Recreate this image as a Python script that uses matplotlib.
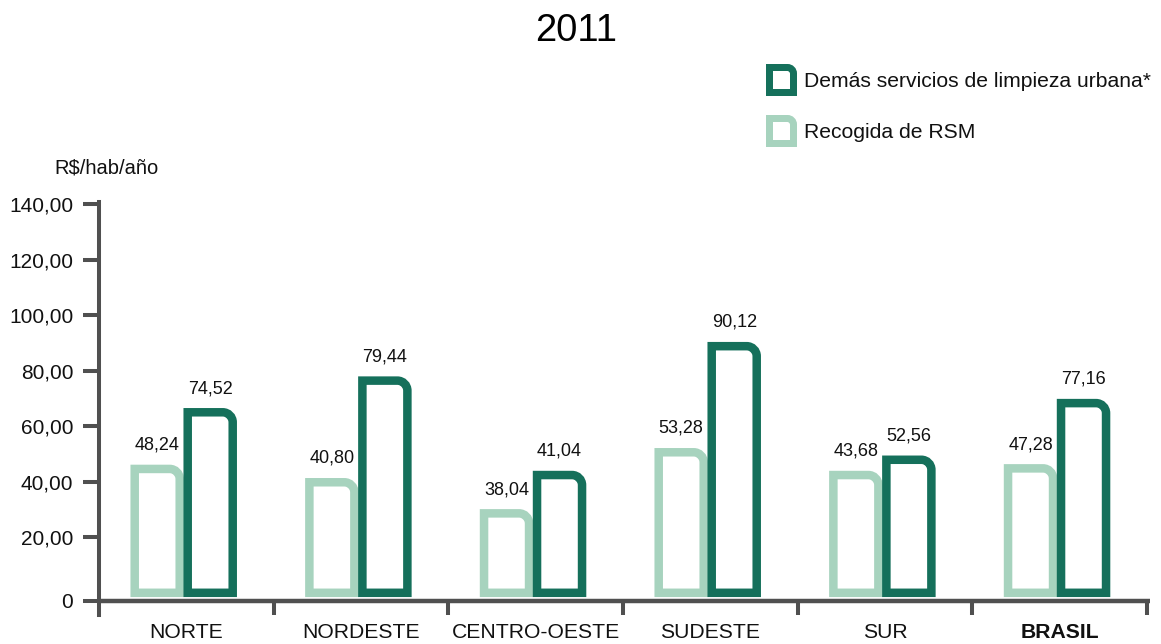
import numpy as np
import matplotlib
matplotlib.use("Agg")
import matplotlib.pyplot as plt
from matplotlib.path import Path
from matplotlib.patches import PathPatch

plt.rcParams['font.family'] = ['Liberation Sans', 'DejaVu Sans']

################################################################
# datos

regiones = ['NORTE', 'NORDESTE', 'CENTRO-OESTE', 'SUDESTE', 'SUR', 'BRASIL']
# valores impresos en el grafico
recogida_txt = ['48,24', '40,80', '38,04', '53,28', '43,68', '47,28']
demas_txt = ['74,52', '79,44', '41,04', '90,12', '52,56', '77,16']
# altura de las barras tal como aparecen dibujadas
recogida = [44.6, 39.8, 28.6, 50.6, 42.4, 44.8]
demas = [65.0, 76.4, 42.4, 88.8, 47.9, 68.3]

y_ticks = [20, 40, 60, 80, 100, 120, 140]
y_labels = ['20,00', '40,00', '60,00', '80,00', '100,00', '120,00', '140,00']

OSCURO = '#15705b'
CLARO = '#a7d3be'
EJE = '#505050'

################################################################


def barra(x0, x1, y0, y1, rx, ry):
    """
    Path of a bar outline with only the top right corner rounded
    """
    k = 0.5523
    verts = [(x0, y0), (x0, y1), (x1 - rx, y1),
             (x1 - rx + k * rx, y1), (x1, y1 - ry + k * ry), (x1, y1 - ry),
             (x1, y0), (x0, y0)]
    codes = [Path.MOVETO, Path.LINETO, Path.LINETO,
             Path.CURVE4, Path.CURVE4, Path.CURVE4,
             Path.LINETO, Path.CLOSEPOLY]
    return Path(verts, codes)


W, H = 1161, 644
fig = plt.figure(figsize=(W / 100, H / 100), dpi=100)

# axes in pixels: x -0.5..5.5 -> 99..1147, y -8..140 -> 615..204
px_unit = 2.777
y_min = -8
bot = 592.8 + (-y_min) * px_unit
ax = fig.add_axes([99 / W, (H - bot) / H, 1048 / W, (bot - 204) / H])
ax.set_xlim(-0.5, 5.5)
ax.set_ylim(y_min, 140)

cat_w = 1048 / 6.0   # pixels per category
lw = 8.5 * 0.72      # stroke ~8 px
ancho = 45 / cat_w
desp = 26.5 / cat_w
rx = 10 / cat_w
ry = 10 / px_unit

x = np.arange(len(regiones))
for i in range(len(regiones)):
    for serie, txts, col, s in [(recogida, recogida_txt, CLARO, -1),
                                (demas, demas_txt, OSCURO, 1)]:
        xc = x[i] - 0.015 + s * desp
        p = barra(xc - ancho / 2, xc + ancho / 2, 0, serie[i], rx, ry)
        ax.add_patch(PathPatch(p, facecolor='white', edgecolor=col, lw=lw,
                               joinstyle='miter', zorder=2))
        ax.annotate(txts[i], (xc, serie[i]), xytext=(0, 11),
                    textcoords='offset points', ha='center', va='bottom',
                    fontsize=13, color='#111111')

# ejes
eje_y = -2.85
for sp in ['top', 'right', 'bottom']:
    ax.spines[sp].set_visible(False)
ax.spines['left'].set_color(EJE)
ax.spines['left'].set_linewidth(2.9)
ax.spines['left'].set_bounds(y_min, 140.7)
ax.set_yticks([eje_y] + y_ticks)
ax.set_yticklabels(['0'] + y_labels)
ax.tick_params(axis='y', length=11.5, width=2.9, color=EJE, pad=7,
               labelsize=15, labelcolor='#111111')

ax.plot([-0.5, 5.52], [eje_y, eje_y], color=EJE, lw=3.2,
        solid_capstyle='butt', clip_on=False, zorder=3)
ax.vlines(np.arange(0.5, 6.0, 1.0), y_min, eje_y, color=EJE, lw=2.9,
          clip_on=False, zorder=3)

ax.set_xticks(x)
ax.set_xticklabels(regiones)
ax.tick_params(axis='x', length=0, pad=6, labelsize=15.2, labelcolor='#111111')
ax.get_xticklabels()[-1].set_fontweight('bold')

# titulo y textos
fig.text(576 / W, 1 - 31 / H, '2011', ha='center', va='center', fontsize=27.5)
fig.text(54 / W, 1 - 168 / H, 'R$/hab/año', ha='left', va='center',
         fontsize=14.5, color='#111111')

# leyenda en pixeles
lg = fig.add_axes([0, 0, 1, 1], facecolor='none')
lg.set_xlim(0, W)
lg.set_ylim(H, 0)
lg.axis('off')
for y0, col, txt in [(64, OSCURO, 'Demás servicios de limpieza urbana*'),
                     (115, CLARO, 'Recogida de RSM')]:
    p = barra(769.5, 793.5, y0 + 28.5, y0 + 3.5, 6, -6)
    lg.add_patch(PathPatch(p, facecolor='white', edgecolor=col, lw=7 * 0.72,
                           joinstyle='miter'))
    lg.text(804, y0 + 17, txt, ha='left', va='center', fontsize=15.2,
            color='#111111')

plt.savefig('out.png', dpi=100)
